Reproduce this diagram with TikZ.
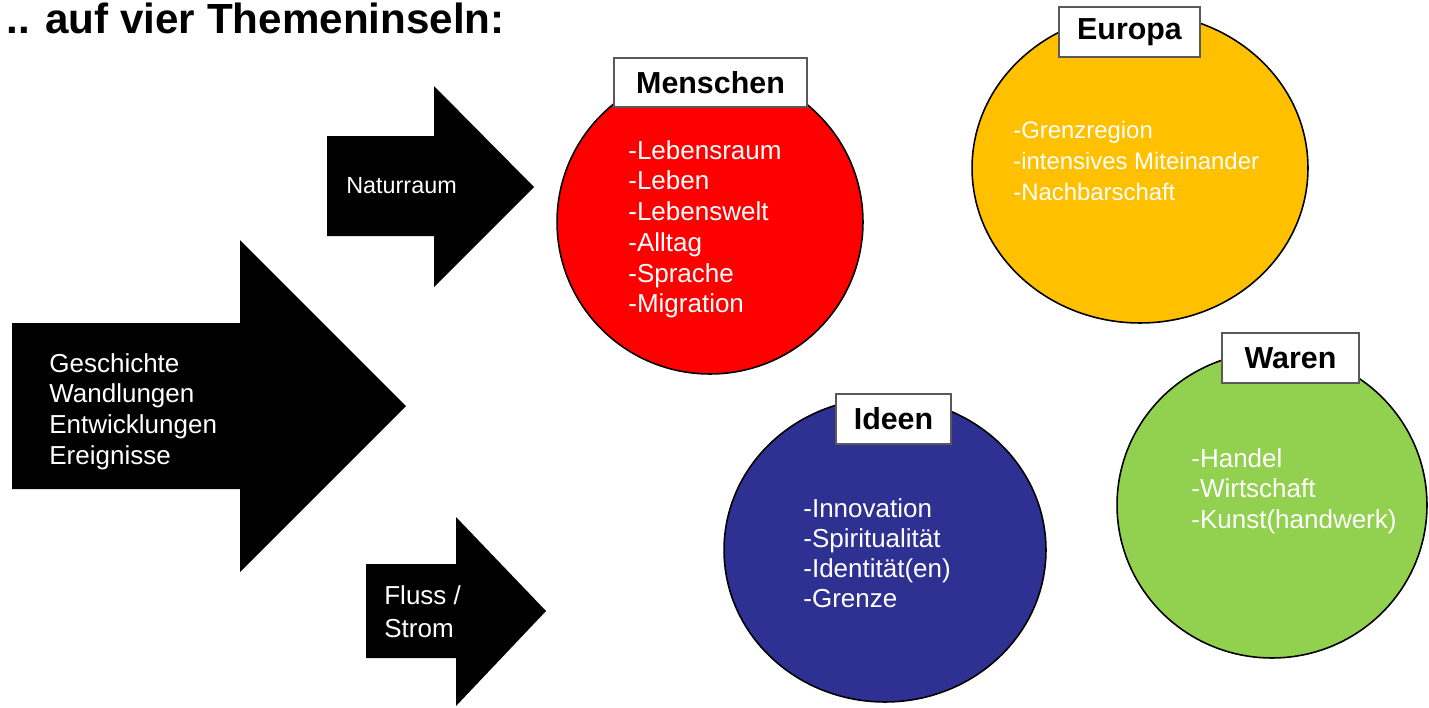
\documentclass[tikz,border=0pt]{standalone}
\usepackage{fontspec}
\setmainfont{Liberation Sans}
\usetikzlibrary{shapes.geometric}

\definecolor{inselrot}{HTML}{FF0000}
\definecolor{inselgelb}{HTML}{FFC000}
\definecolor{inselblau}{HTML}{2E3192}
\definecolor{inselgruen}{HTML}{92D050}

\tikzset{
	insel/.style={ellipse, draw=black, line width=0.9pt, inner sep=0pt},
	titel/.style={draw=black!65, fill=white, line width=0.7pt, inner sep=0pt,
		font=\bfseries\fontsize{17.3}{20}\selectfont},
	punkte/.style={text=white, align=left, anchor=north west, inner sep=0pt,
		font=\fontsize{14.8}{17.5}\selectfont},
}

\begin{document}
\begin{tikzpicture}[x=0.02cm, y=-0.02cm]
	\useasboundingbox (0,0) rectangle (1429,707);

	% draw heading
	\node[anchor=base west, inner sep=0pt, font=\bfseries\fontsize{24}{28}\selectfont]
		(kopf) at (6,33) {.. auf vier Themeninseln:};

	% draw arrows
	\fill (12,323) -- (240,323) -- (240,240) -- (406,406) -- (240,572) -- (240,489) -- (12,489) -- cycle;
	\fill (327,136) -- (434,136) -- (434,86) -- (534,187) -- (434,287) -- (434,236) -- (327,236) -- cycle;
	\fill (366,564) -- (456,564) -- (456,517) -- (546,611) -- (456,706) -- (456,658) -- (366,658) -- cycle;

	\node[punkte] (geschichte) at (49,353) {Geschichte\\Wandlungen\\Entwicklungen\\Ereignisse};
	\node[punkte, font=\fontsize{13.3}{16}\selectfont] (naturraum) at (346,177) {Naturraum};
	\node[punkte, font=\fontsize{14.8}{18.8}\selectfont] (fluss) at (384,585) {Fluss /\\Strom};

	% draw islands
	\node[insel, fill=inselrot, minimum width=6.12cm, minimum height=6.08cm] (menschen) at (710,222) {};
	\node[insel, fill=inselgelb, minimum width=6.72cm, minimum height=6.2cm] (europa) at (1140,168) {};
	\node[insel, fill=inselblau, minimum width=6.44cm, minimum height=6.08cm] (ideen) at (885,550) {};
	\node[insel, fill=inselgruen, minimum width=6.2cm, minimum height=6.12cm] (waren) at (1272,505) {};

	% draw island titles
	\node[titel, minimum width=3.86cm, minimum height=0.98cm] (menschen_t) at (710.5,82.5) {Menschen};
	\node[titel, minimum width=2.82cm, minimum height=1cm] (europa_t) at (1129.5,32) {Europa};
	\node[titel, minimum width=2.3cm, minimum height=1cm] (ideen_t) at (893.5,419) {Ideen};
	\node[titel, minimum width=2.74cm, minimum height=1cm] (waren_t) at (1290.5,358) {Waren};

	% draw island texts
	\node[punkte] (menschen_p) at (628,140)
		{-Lebensraum\\-Leben\\-Lebenswelt\\-Alltag\\-Sprache\\-Migration};
	\node[punkte, font=\fontsize{13.6}{17.6}\selectfont] (europa_p) at (1013,120.5)
		{-Grenzregion\\-intensives Miteinander\\-Nachbarschaft};
	\node[punkte, font=\fontsize{14.8}{17.2}\selectfont] (ideen_p) at (803,498)
		{-Innovation\\-Spiritualität\\-Identität(en)\\-Grenze};
	\node[punkte] (waren_p) at (1191,448)
		{-Handel\\-Wirtschaft\\-Kunst(handwerk)};

\end{tikzpicture}
\end{document}
